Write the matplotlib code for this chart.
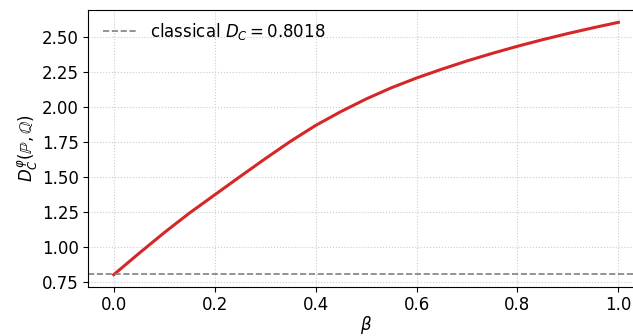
import numpy as np
import matplotlib
matplotlib.use('Agg')
import matplotlib.pyplot as plt

# values
beta = [0.00, 0.05, 0.10, 0.15, 0.20, 0.25, 0.30, 0.35, 0.40, 0.45, 0.50,
        0.55, 0.60, 0.65, 0.70, 0.75, 0.80, 0.85, 0.90, 0.95, 1.00]
d_phi = [0.800, 0.952, 1.100, 1.240, 1.370, 1.500, 1.628, 1.752, 1.866, 1.965,
         2.055, 2.135, 2.205, 2.268, 2.327, 2.381, 2.432, 2.479, 2.523, 2.564,
         2.603]
d_classical = 0.8018

fig = plt.figure(figsize=(6.33, 3.36), dpi=100)
# axes run past the right edge of the figure, as in the reference crop
ax = fig.add_axes([0.1398, 0.1467, 0.877, 0.8244])

ax.plot(beta, d_phi, color='#d62728', lw=2.2)
ax.axhline(d_classical, color='gray', ls='--', lw=1.2,
           label=r'classical $D_C = 0.8018$')
ax.set_xlim(-0.05, 1.05)
ax.set_ylim(0.714, 2.693)
ax.set_xticks([0.0, 0.2, 0.4, 0.6, 0.8, 1.0])
ax.set_yticks([0.75, 1.00, 1.25, 1.50, 1.75, 2.00, 2.25, 2.50])
ax.set_xlabel(r'$\beta$', fontsize=12, labelpad=0)
ax.set_ylabel(r'$D_C^{\varphi}(\mathbb{P},\mathbb{Q})$', fontsize=12, labelpad=1)
ax.tick_params(labelsize=12)
ax.grid(True, ls=':', color='#cccccc', lw=0.8)
ax.legend(loc='upper left', bbox_to_anchor=(0, 1.014), frameon=False, fontsize=12)

fig.savefig('out.png', dpi=100)
